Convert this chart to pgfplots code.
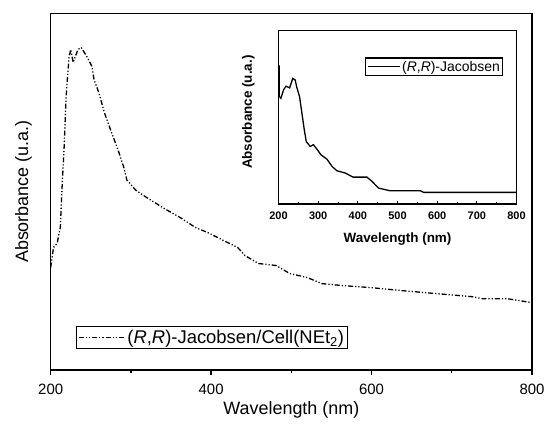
\documentclass[border=0pt]{standalone}
\usepackage{pgfplots}
\pgfplotsset{compat=1.18}
\usepackage{fontspec}
\setmainfont{Liberation Sans}
\usetikzlibrary{calc}

\begin{document}
\begin{tikzpicture}
% main spectrum
\begin{axis}[
    name=main, scale only axis,
    width=481.3bp, height=356.7bp,
    xmin=200, xmax=800, ymin=0, ymax=355,
    xtick={200,400,600,800}, minor xtick={300,500,700}, ytick=\empty,
    xtick pos=bottom, tick align=outside,
    major tick length=5bp, minor tick length=3bp,
    axis line style={line width=1.3bp},
    every tick/.style={black, line width=1.3bp},
    /pgf/number format/assume math mode=true,
    /pgf/number format/1000 sep={},
    xticklabel style={font=\fontsize{15}{18}\selectfont, inner sep=0pt, yshift=-9bp},
    xlabel={Wavelength (nm)},
    ylabel={Absorbance (u.a.)},
    xlabel style={font=\fontsize{18}{21}\selectfont, at={(axis description cs:0.5,-0.125)}, anchor=base, inner sep=0pt},
    ylabel style={font=\fontsize{18}{21}\selectfont, at={(axis description cs:-0.039,0.5)}, anchor=south, inner sep=0pt},
    legend style={at={(0.0526,0.058)}, anchor=south west, draw=black, line width=1.2bp,
        inner sep=1.5bp, font=\fontsize{18.5}{20}\selectfont},
    legend image code/.code={\draw[#1] (0bp,0bp) -- (46bp,0bp);},
]
\addplot[black, line width=1.3bp, dash pattern=on 5bp off 2bp on 1.2bp off 2bp on 1.2bp off 2bp] coordinates {
(200,102) (203.5,122) (208,126) (212,142) (214,179) (217,226) (219,269) (221,292)
(223,312) (225,319) (228,306) (234,319) (238,321) (245,312) (251.5,302) (254,289)
(260,276) (267,256) (276,236) (284,219) (291,202) (295,189) (306,179) (319,172)
(341,161) (363,151) (380,142) (398,136) (415,129) (433,122) (442,114) (459,106)
(481,104) (498,96) (520,92) (538,86) (564,84) (599,82) (638,79) (681,76)
(725,73) (738,71) (769,71) (800,67)
};
\addlegendentry{(\textit{R},\textit{R})-Jacobsen/Cell(NEt\textsubscript{2})}
\end{axis}

% inset spectrum
\begin{axis}[
    at={($(main.south west)+(227.8bp,166bp)$)}, anchor=south west,
    scale only axis, width=238bp, height=173.3bp,
    xmin=200, xmax=800, ymin=0, ymax=1,
    xtick={200,300,...,800}, minor x tick num=1, ytick=\empty,
    xtick pos=bottom, tick align=inside,
    major tick length=3bp, minor tick length=2bp,
    axis line style={line width=1.3bp},
    every tick/.style={black, line width=1bp},
    /pgf/number format/assume math mode=true,
    /pgf/number format/1000 sep={},
    xticklabel style={font=\bfseries\fontsize{11}{13}\selectfont, inner sep=0pt, yshift=-7.7bp},
    xlabel={Wavelength (nm)},
    ylabel={Absorbance (u.a.)},
    xlabel style={font=\bfseries\fontsize{13.5}{16}\selectfont, at={(axis description cs:0.5,-0.22)}, anchor=base, inner sep=0pt},
    ylabel style={font=\bfseries\fontsize{13.5}{16}\selectfont, at={(axis description cs:-0.099,0.53)}, anchor=south, inner sep=0pt},
    legend style={at={(0.945,0.846)}, anchor=north east, draw=black, line width=1.2bp,
        inner sep=1bp, font=\fontsize{14}{15}\selectfont},
    legend image code/.code={\draw[#1] (0bp,0bp) -- (32bp,0bp);},
]
\addplot[black, line width=1.3bp] coordinates {
(202,0.80) (202,0.62) (206,0.61) (213,0.66) (219,0.68) (228,0.67) (236,0.725)
(242,0.716) (246,0.674) (253,0.62) (259,0.524) (265,0.428) (270,0.36) (280,0.332)
(288,0.342) (298,0.313) (307,0.284) (322,0.259) (335,0.217) (347,0.192) (368,0.179)
(388,0.155) (423,0.155) (436,0.13) (452,0.092) (480,0.077) (557,0.077) (566,0.067)
(800,0.067)
};
\addlegendentry{(\textit{R},\textit{R})-Jacobsen}
\end{axis}

\pgfresetboundingbox
\path[use as bounding box] ($(main.south west)+(-50.7bp,-55bp)$) rectangle ($(main.north east)+(16bp,13.3bp)$);
\end{tikzpicture}
\end{document}
